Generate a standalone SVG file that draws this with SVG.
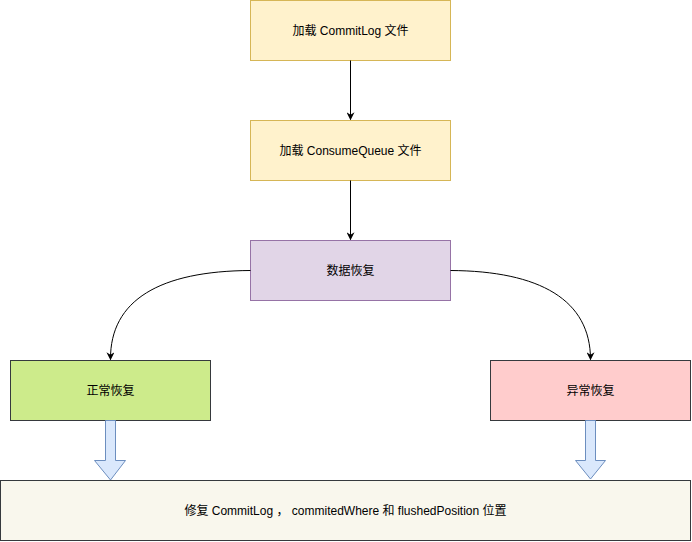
<svg xmlns="http://www.w3.org/2000/svg" width="692" height="542" viewBox="0 0 692 542">
  <style>
    .lbl { font-family: "Liberation Sans", "Noto Sans CJK SC", Arial, sans-serif; font-size: 12px; fill: #000; text-anchor: middle; dominant-baseline: central; }
    .edge { fill: none; stroke: #000; stroke-width: 1; }
    .fat { fill: #dae8fc; stroke: #6c8ebf; stroke-width: 1; }
  </style>
  <defs>
    <marker id="arrow" viewBox="0 0 10 10" refX="9" refY="5" markerWidth="8" markerHeight="8" orient="auto" markerUnits="userSpaceOnUse">
      <path d="M0 0 L10 5 L0 10 L3 5 Z" fill="#000"/>
    </marker>
  </defs>

  <g id="load-commitlog">
    <rect x="250.5" y="0.5" width="200" height="60" fill="#fff2cc" stroke="#d6b656"/>
    <text class="lbl" x="350.5" y="30.5">加载 CommitLog 文件</text>
  </g>
  <g id="load-consumequeue">
    <rect x="250.5" y="120.5" width="200" height="60" fill="#fff2cc" stroke="#d6b656"/>
    <text class="lbl" x="350.5" y="150.5">加载 ConsumeQueue 文件</text>
  </g>
  <g id="recover">
    <rect x="250.5" y="240.5" width="200" height="60" fill="#e1d5e7" stroke="#9673a6"/>
    <text class="lbl" x="350.5" y="270.5">数据恢复</text>
  </g>
  <g id="normal-recover">
    <rect x="10.5" y="360.5" width="200" height="60" fill="#cdeb8b" stroke="#36393d"/>
    <text class="lbl" x="110.5" y="390.5">正常恢复</text>
  </g>
  <g id="abnormal-recover">
    <rect x="490.5" y="360.5" width="200" height="60" fill="#ffcccc" stroke="#36393d"/>
    <text class="lbl" x="590.5" y="390.5">异常恢复</text>
  </g>
  <g id="fix-positions">
    <rect x="0.5" y="480.5" width="690" height="60" fill="#f9f7ed" stroke="#36393d"/>
    <text class="lbl" x="345.5" y="510.5" xml:space="preserve">修复 CommitLog ， commitedWhere 和 flushedPosition 位置</text>
  </g>

  <g id="connectors">
    <path class="edge" d="M350.5 60.5 L350.5 119.5" marker-end="url(#arrow)"/>
    <path class="edge" d="M350.5 180.5 L350.5 239.5" marker-end="url(#arrow)"/>
    <path class="edge" d="M250.5 270.5 C160 271 110 300 110.5 359.5" marker-end="url(#arrow)"/>
    <path class="edge" d="M450.5 270.5 C540 271 590.5 300 590.5 359.5" marker-end="url(#arrow)"/>
    <path class="fat" d="M105.5 420.5 L115.5 420.5 L115.5 460.5 L125.5 460.5 L110.5 480 L94.5 460.5 L105.5 460.5 Z"/>
    <path class="fat" d="M585.5 420.5 L595.5 420.5 L595.5 460.5 L605.5 460.5 L590.5 479 L575.5 460.5 L585.5 460.5 Z"/>
  </g>
</svg>
